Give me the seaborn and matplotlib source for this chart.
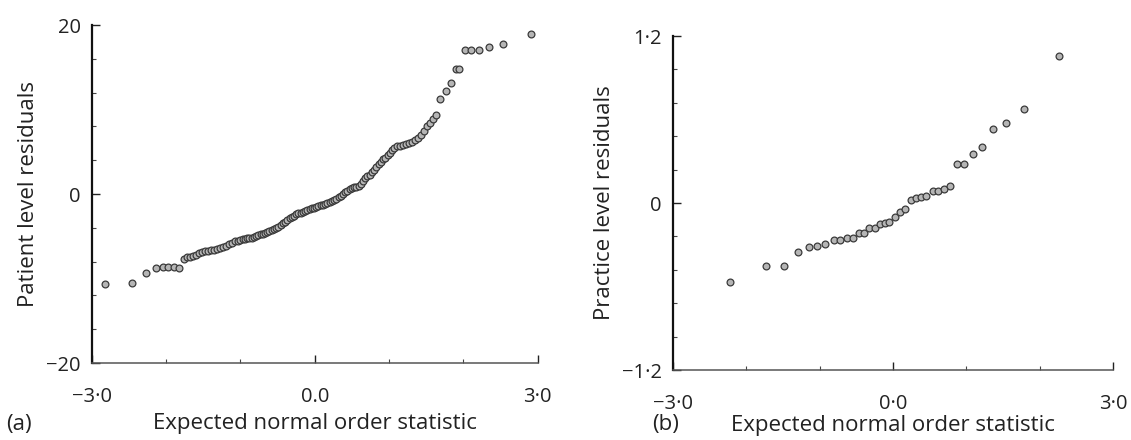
import pandas as pd
import seaborn as sns
import matplotlib.pyplot as plt

# (a) patient level residuals against expected normal order statistic
patient_x = [-2.82, -2.46, -2.27, -2.14, -2.04, -1.97, -1.90, -1.83,
             -1.76, -1.72, -1.68, -1.64, -1.60, -1.56, -1.52, -1.48, -1.44, -1.40,
             -1.36, -1.32, -1.28, -1.24, -1.20, -1.16, -1.12, -1.08, -1.04, -1.00,
             -0.97, -0.94, -0.91, -0.88, -0.85, -0.82, -0.79, -0.76, -0.73, -0.70,
             -0.67, -0.64, -0.61, -0.58, -0.55, -0.52, -0.49, -0.46, -0.43, -0.40,
             -0.37, -0.34, -0.31, -0.28, -0.25, -0.22, -0.19, -0.16, -0.13, -0.10,
             -0.07, -0.04, -0.01, 0.02, 0.05, 0.08, 0.11, 0.14, 0.17, 0.20,
             0.23, 0.26, 0.29, 0.32, 0.35, 0.38, 0.41, 0.44, 0.47, 0.50,
             0.53, 0.56, 0.59, 0.62, 0.65, 0.68, 0.71, 0.74, 0.77, 0.80,
             0.83, 0.86, 0.89, 0.92, 0.95, 0.98, 1.01, 1.04, 1.07, 1.11,
             1.15, 1.19, 1.23, 1.27, 1.31, 1.35, 1.39, 1.43, 1.47, 1.51,
             1.55, 1.59, 1.63,
             1.69, 1.77, 1.83, 1.90, 1.94, 2.02, 2.10, 2.21, 2.34, 2.53, 2.91]
patient_y = [-10.6, -10.5, -9.3, -8.8, -8.6, -8.6, -8.6, -8.7,
             -7.7, -7.5, -7.4, -7.3, -7.2, -7.0, -6.9, -6.8, -6.7, -6.6,
             -6.6, -6.5, -6.4, -6.3, -6.1, -5.9, -5.8, -5.6, -5.5, -5.4,
             -5.3, -5.3, -5.25, -5.2, -5.2, -5.1, -4.95, -4.85, -4.75, -4.7,
             -4.6, -4.5, -4.4, -4.25, -4.1, -4.0, -3.9, -3.7, -3.45, -3.3,
             -3.1, -2.85, -2.7, -2.55, -2.4, -2.3, -2.2, -2.1, -2.0, -1.9,
             -1.8, -1.7, -1.6, -1.5, -1.4, -1.35, -1.25, -1.15, -1.05, -0.95,
             -0.85, -0.75, -0.6, -0.4, -0.2, 0.0, 0.2, 0.4, 0.55, 0.7,
             0.8, 0.85, 0.9, 1.2, 1.6, 1.9, 2.1, 2.3, 2.6, 2.9,
             3.2, 3.5, 3.8, 4.1, 4.3, 4.6, 4.8, 5.2, 5.5, 5.65,
             5.7, 5.8, 5.95, 6.1, 6.2, 6.4, 6.6, 7.0, 7.5, 8.0,
             8.4, 8.9, 9.3,
             11.25, 12.2, 13.1, 14.8, 14.8, 17.0, 17.1, 17.1, 17.4, 17.8, 18.9]

# (b) practice level residuals
practice_x = [-2.22, -1.73, -1.48, -1.30, -1.15, -1.03, -0.92, -0.81, -0.72, -0.63,
              -0.55, -0.46, -0.39, -0.32, -0.25, -0.18, -0.11, -0.05, 0.03, 0.10,
              0.17, 0.24, 0.32, 0.38, 0.45, 0.54, 0.62, 0.69, 0.78, 0.87,
              0.97, 1.09, 1.21, 1.36, 1.54, 1.79, 2.27]
practice_y = [-0.569, -0.450, -0.450, -0.354, -0.313, -0.306, -0.297, -0.263, -0.263, -0.254,
              -0.251, -0.218, -0.218, -0.177, -0.177, -0.153, -0.146, -0.139, -0.098, -0.065,
              -0.043, 0.019, 0.033, 0.041, 0.050, 0.089, 0.089, 0.098, 0.124, 0.282,
              0.282, 0.356, 0.404, 0.529, 0.574, 0.675, 1.055]

x_major = [-3, 0, 3]
x_minor = [-2, -1, 1, 2]
a_xlabels = ['\u22123\u00b70', '0.0', '3\u00b70']
b_xlabels = ['\u22123\u00b70', '0\u00b70', '3\u00b70']
a_ymajor = [-20, 0, 20]
a_yminor = [-16, -12, -8, -4, 4, 8, 12, 16]
a_ylabels = ['\u221220', '0', '20']
b_ymajor = [-1.2, 0, 1.2]
b_yminor = [-0.96, -0.72, -0.48, -0.24, 0.24, 0.48, 0.72, 0.96]
b_ylabels = ['\u22121\u00b72', '0', '1\u00b72']

sns.set_style("ticks")
plt.rcParams['font.family'] = ['Open Sans', 'DejaVu Sans']

fig = plt.figure(figsize=(11.31, 4.40), dpi=100)
ax_a = fig.add_axes([0.0813, 0.175, 0.394, 0.768])
ax_b = fig.add_axes([0.595, 0.159, 0.389, 0.759])

df_a = pd.DataFrame({'x': patient_x, 'y': patient_y})
df_b = pd.DataFrame({'x': practice_x, 'y': practice_y})

point_style = dict(marker='o', s=24, color='#b5b5b5', edgecolor='#3a3a3a', linewidth=0.9)
sns.scatterplot(data=df_a, x='x', y='y', ax=ax_a, **point_style)
sns.scatterplot(data=df_b, x='x', y='y', ax=ax_b, **point_style)


def style_axes(ax, ymajor, yminor, ylabels, xlabels, ylim, ylabel, xlabel_y):
    ax.set_xlim(-3, 3)
    ax.set_ylim(*ylim)
    ax.set_xticks(x_major)
    ax.set_xticks(x_minor, minor=True)
    ax.set_xticklabels(xlabels)
    ax.set_yticks(ymajor)
    ax.set_yticks(yminor, minor=True)
    ax.set_yticklabels(ylabels)
    ax.tick_params(which='major', direction='in', length=6, width=1, color='#222222',
                   labelsize=14.5, labelcolor='#222222')
    ax.tick_params(which='minor', direction='in', length=3, width=0.8, color='#444444')
    ax.tick_params(axis='x', which='major', pad=17)
    ax.tick_params(axis='y', which='major', pad=8)
    for side in ['top', 'right']:
        ax.spines[side].set_visible(False)
    ax.spines['left'].set_linewidth(1.6)
    ax.spines['left'].set_color('#111111')
    ax.spines['bottom'].set_linewidth(1.1)
    ax.spines['bottom'].set_color('#555555')
    ax.set_xlabel('Expected normal order statistic', fontsize=16, color='#222222')
    ax.xaxis.set_label_coords(0.5, xlabel_y)
    ax.set_ylabel(ylabel, fontsize=16, color='#222222', labelpad=5)


style_axes(ax_a, a_ymajor, a_yminor, a_ylabels, a_xlabels, (-20, 20),
           'Patient level residuals', -0.148)
style_axes(ax_b, b_ymajor, b_yminor, b_ylabels, b_xlabels, (-1.2, 1.2),
           'Practice level residuals', -0.135)

fig.text(0.005, 0.022, '(a)', fontsize=16, color='#222222')
fig.text(0.577, 0.022, '(b)', fontsize=16, color='#222222')

fig.savefig('out.png', dpi=100)
